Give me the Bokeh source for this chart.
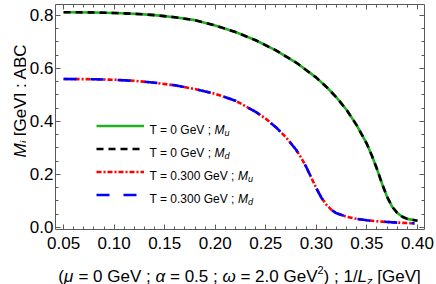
import math
from bokeh.plotting import figure
from bokeh.layouts import row, column
from bokeh.models import (Range1d, LinearAxis, SingleIntervalTicker, PrintfTickFormatter,
                          CustomLabelingPolicy, Label, Legend, LegendItem)
from bokeh.embed import file_html
from bokeh.resources import INLINE

# ---- data ----
x_t0 = [0.05, 0.08, 0.10, 0.12, 0.14, 0.16, 0.18, 0.20, 0.22, 0.24, 0.26, 0.28, 0.30,
        0.31, 0.32, 0.33, 0.34, 0.35, 0.355, 0.36, 0.365, 0.37, 0.375, 0.38, 0.385,
        0.39, 0.40]
m_t0 = [0.812, 0.811, 0.809, 0.806, 0.801, 0.793, 0.782, 0.762, 0.737, 0.706, 0.668,
        0.622, 0.565, 0.530, 0.490, 0.443, 0.385, 0.315, 0.270, 0.220, 0.165, 0.115,
        0.078, 0.055, 0.040, 0.032, 0.025]
x_t3 = [0.05, 0.08, 0.10, 0.12, 0.14, 0.16, 0.18, 0.20, 0.22, 0.24, 0.25, 0.26, 0.27,
        0.28, 0.285, 0.29, 0.295, 0.30, 0.305, 0.31, 0.315, 0.32, 0.33, 0.34, 0.35,
        0.36, 0.38, 0.397]
m_t3 = [0.560, 0.559, 0.557, 0.553, 0.546, 0.536, 0.522, 0.504, 0.478, 0.436, 0.410,
        0.378, 0.340, 0.293, 0.263, 0.228, 0.188, 0.148, 0.112, 0.085, 0.066, 0.053,
        0.040, 0.032, 0.027, 0.023, 0.018, 0.015]
legend_labels = [("T = 0 GeV ; ", "u"), ("T = 0 GeV ; ", "d"),
                 ("T = 0.300 GeV ; ", "u"), ("T = 0.300 GeV ; ", "d")]

x_ticks_interval = 0.05
y_ticks_interval = 0.2

FONT = "Liberation Sans"
FS = 17
FRAME = "#5a5a5a"

TOTAL_W, TOTAL_H = 436, 284
YT_W = 26          # width of the y-title strip
XT_H = 26          # height of the x-title strip
PW, PH = TOTAL_W - YT_W, TOTAL_H - XT_H
BL, BR, BT, BB = 54 - YT_W, 12, 2, 29
FW = PW - BL - BR
FH = PH - BT - BB

p = figure(width=PW, height=PH, output_backend="svg", toolbar_location=None,
           x_range=Range1d(0.042, 0.407), y_range=Range1d(-0.008, 0.841),
           min_border_left=BL, min_border_right=BR, min_border_top=BT,
           min_border_bottom=BB, x_axis_location=None, y_axis_location=None,
           frame_align=False, title=None)
p.grid.visible = False
p.outline_line_color = None


def style_axis(ax, labels=True):
    ax.axis_line_color = FRAME
    ax.axis_line_width = 1
    ax.major_tick_line_color = FRAME
    ax.minor_tick_line_color = FRAME
    ax.major_tick_in = 5
    ax.major_tick_out = 0
    ax.minor_tick_in = 3
    ax.minor_tick_out = 0
    ax.axis_label_standoff = 0
    ax.major_label_text_font = FONT
    ax.major_label_text_font_size = f"{FS}px"
    ax.major_label_text_color = "black"
    if not labels:
        ax.major_label_text_font_size = "1px"
        ax.major_label_standoff = 0
        ax.major_label_policy = CustomLabelingPolicy(code="return new Set()")


xb = LinearAxis(ticker=SingleIntervalTicker(interval=x_ticks_interval, num_minor_ticks=5),
                formatter=PrintfTickFormatter(format="%.2f"))
style_axis(xb)
xb.major_label_standoff = 7
xt = LinearAxis(ticker=SingleIntervalTicker(interval=x_ticks_interval, num_minor_ticks=5))
style_axis(xt, labels=False)
yl = LinearAxis(ticker=SingleIntervalTicker(interval=y_ticks_interval, num_minor_ticks=4),
                formatter=PrintfTickFormatter(format="%.1f"))
style_axis(yl)
yl.major_label_standoff = 2
yr = LinearAxis(ticker=SingleIntervalTicker(interval=y_ticks_interval, num_minor_ticks=4))
style_axis(yr, labels=False)
p.add_layout(xb, "below")
p.add_layout(xt, "above")
p.add_layout(yl, "left")
p.add_layout(yr, "right")

LW = 2.6
r_g = p.line(x_t0, m_t0, line_color="#22b022", line_width=LW)
r_k = p.line(x_t0, m_t0, line_color="black", line_width=LW, line_dash="7 5")
r_r = p.line(x_t3, m_t3, line_color="#ff0000", line_width=LW, line_dash="5 2 2 2")
r_b = p.line(x_t3, m_t3, line_color="#0000ff", line_width=LW, line_dash="13 14")

# ---- legend (glyph samples) ----
GH, SP = 17, 6
LEG_X, LEG_Y = 41, 26
leg = Legend(items=[LegendItem(label=" ", renderers=[r]) for r in (r_g, r_k, r_r, r_b)],
             location=(LEG_X, LEG_Y), orientation="vertical", padding=0, margin=0,
             spacing=SP, glyph_width=48, glyph_height=GH, label_height=GH,
             label_width=10, label_standoff=5, label_text_font_size="12px",
             background_fill_alpha=0, border_line_alpha=0)
p.add_layout(leg, "center")

# width table (em units, Arial / Liberation Sans metrics)
WID = {" ": .278, "(": .333, ")": .333, "=": .584, ";": .278, ".": .278, "/": .278,
       "[": .278, "]": .278, "G": .778, "e": .556, "V": .667, "M": .833, "T": .611,
       "L": .556, "A": .667, "B": .667, "C": .722, "i": .222, "u": .556, "d": .556,
       "z": .5, "μ": .576, "α": .578, "ω": .781}


def tw(s, size):
    return sum(WID.get(c, .556) for c in s) * size


def add_text(fig, s, x, y, size, italic=False, angle=0.0):
    # leading spaces would be dropped by SVG: shift the anchor instead
    lead = len(s) - len(s.lstrip(" "))
    off = tw(" " * lead, size)
    x += off * math.cos(angle)
    y += off * math.sin(angle)
    fig.add_layout(Label(x=x, y=y, x_units="screen", y_units="screen", text=s.strip(" "),
                         text_font=FONT, text_font_size=f"{size}px",
                         text_font_style="italic" if italic else "normal",
                         text_color="black", text_align="left",
                         text_baseline="alphabetic", angle=angle))


# legend texts
LFS = 12
top = LEG_Y + 4 * GH + 3 * SP
for k, (s, sub) in enumerate(legend_labels):
    cy = top - GH / 2 - k * (GH + SP)
    by = cy - 4
    x0 = LEG_X + 48 + 5
    add_text(p, s, x0, by, LFS)
    x0 += tw(s, LFS)
    add_text(p, "M", x0, by, LFS, italic=True)
    x0 += tw("M", LFS)
    add_text(p, sub, x0, by - 3, 9, italic=True)


def strip(w, h):
    f = figure(width=w, height=h, output_backend="svg", toolbar_location=None,
               x_range=Range1d(0, 1), y_range=Range1d(0, 1), min_border=0,
               x_axis_location=None, y_axis_location=None, frame_align=False,
               title=None)
    f.grid.visible = False
    f.outline_line_color = None
    return f


# x-axis title strip
xfig = strip(PW, XT_H)
pieces = [("(", FS, False, 0), ("μ", FS, True, 0), (" = 0 GeV ; ", FS, False, 0),
          ("α", FS, True, 0), (" = 0.5 ; ", FS, False, 0), ("ω", FS, True, 0),
          (" = 2.0 GeV", FS, False, 0), ("2", 11, False, 7), (") ; 1/", FS, False, 0),
          ("L", FS, True, 0), ("z", 11, True, -4), (" [GeV]", FS, False, 0)]
total = sum(tw(s, sz) for s, sz, _, _ in pieces)
xx = BL + (FW - total) / 2
for s, sz, it, dy in pieces:
    add_text(xfig, s, xx, 8 + dy, sz, italic=it)
    xx += tw(s, sz)

# y-axis title strip (rotated)
yfig = strip(YT_W, TOTAL_H)
ypieces = [("M", FS, True, 0), ("i", 11, True, 3), (" [GeV] ; ABC", FS, False, 0)]
ytotal = sum(tw(s, sz) for s, sz, _, _ in ypieces)
yy = (TOTAL_H - 100) - ytotal / 2
for s, sz, it, dx in ypieces:
    add_text(yfig, s, 20 + dx, yy, sz, italic=it, angle=math.pi / 2)
    yy += tw(s, sz)

layout = row(yfig, column(p, xfig))
open("out.html", "w").write(file_html(layout, INLINE))
